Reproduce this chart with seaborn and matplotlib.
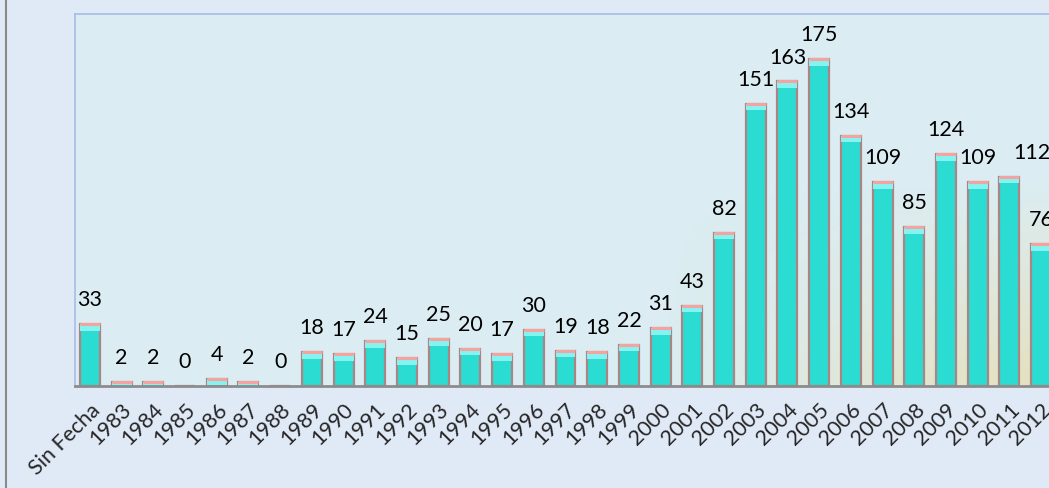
import matplotlib
matplotlib.use("Agg")
import matplotlib.pyplot as plt
import seaborn as sns
import pandas as pd
import numpy as np
from matplotlib.lines import Line2D
from matplotlib.patches import Rectangle

# data
years = ["Sin Fecha", "1983", "1984", "1985", "1986", "1987", "1988", "1989",
         "1990", "1991", "1992", "1993", "1994", "1995", "1996", "1997",
         "1998", "1999", "2000", "2001", "2002", "2003", "2004", "2005",
         "2006", "2007", "2008", "2009", "2010", "2011", "2012"]
counts = [33, 2, 2, 0, 4, 2, 0, 18, 17, 24, 15, 25, 20, 17, 30, 19,
          18, 22, 31, 43, 82, 151, 163, 175, 134, 109, 85, 124, 109, 112, 76]

df = pd.DataFrame({"year": years, "count": counts})

sns.set_style("white")
plt.rcParams["font.family"] = ["Lato", "DejaVu Sans"]

fig = plt.figure(figsize=(10.49, 4.88), dpi=100, facecolor="#e0e9f6")
ax = fig.add_axes([0.0715, 0.209, 0.9285, 0.762])
ax.set_facecolor("#dbedf3")

# faint beige wash toward the lower right of the plot area
gx, gy = np.meshgrid(np.linspace(0, 1, 200), np.linspace(0, 1, 100))
wash = np.zeros((100, 200, 4))
wash[..., :3] = np.array([232, 220, 170]) / 255
wash[..., 3] = 0.75 * np.clip((gx - 0.6) / 0.4, 0, 1) * np.clip((gy - 0.45) / 0.55, 0, 1)
ax.imshow(wash, extent=[0, 1, 0, 1], transform=ax.transAxes, origin="upper",
          aspect="auto", zorder=0)

sns.barplot(data=df, x="year", y="count", color="#2bdcd2", width=0.63,
            edgecolor="#a98585", linewidth=1.6, saturation=1, ax=ax, zorder=2)

# light cyan cap with pink rim on each bar
for p in ax.patches[:len(counts)]:
    h = p.get_height()
    if h > 0:
        ax.add_patch(Rectangle((p.get_x(), h - min(h, 3.5)), p.get_width(), min(h, 3.5),
                               facecolor="#86f3f0", edgecolor="none", zorder=3))
        ax.plot([p.get_x(), p.get_x() + p.get_width()], [h, h],
                color="#f3a3a0", linewidth=2.2, solid_capstyle="butt", zorder=4)

# Excel nudged the 2011 label to the right to avoid its neighbour
label_dx = {"2011": 16}
for i, (y, v) in enumerate(zip(years, counts)):
    ax.annotate(str(v), (i, v), xytext=(label_dx.get(y, 0), 10),
                textcoords="offset points", ha="center", va="bottom",
                fontsize=15.5, color="black", annotation_clip=False)

ax.set_xlim(-0.47, 30.25)
ax.set_ylim(0, 199)
ax.set_yticks([])
ax.set_xlabel("")
ax.set_ylabel("")
ax.tick_params(axis="x", length=0, pad=10)
plt.setp(ax.get_xticklabels(), rotation=45, ha="right", rotation_mode="anchor",
         fontsize=15.5)

for s in ["top", "left"]:
    ax.spines[s].set_color("#a6bde6")
    ax.spines[s].set_linewidth(1.2)
ax.spines["right"].set_visible(False)
ax.spines["bottom"].set_color("#8c8c8c")
ax.spines["bottom"].set_linewidth(2)
ax.spines["bottom"].set_zorder(5)

fig.add_artist(Line2D([0.006, 0.006], [0, 1], color="#8a8a8a", linewidth=1.5))

fig.savefig("out.png", dpi=100, facecolor=fig.get_facecolor())
